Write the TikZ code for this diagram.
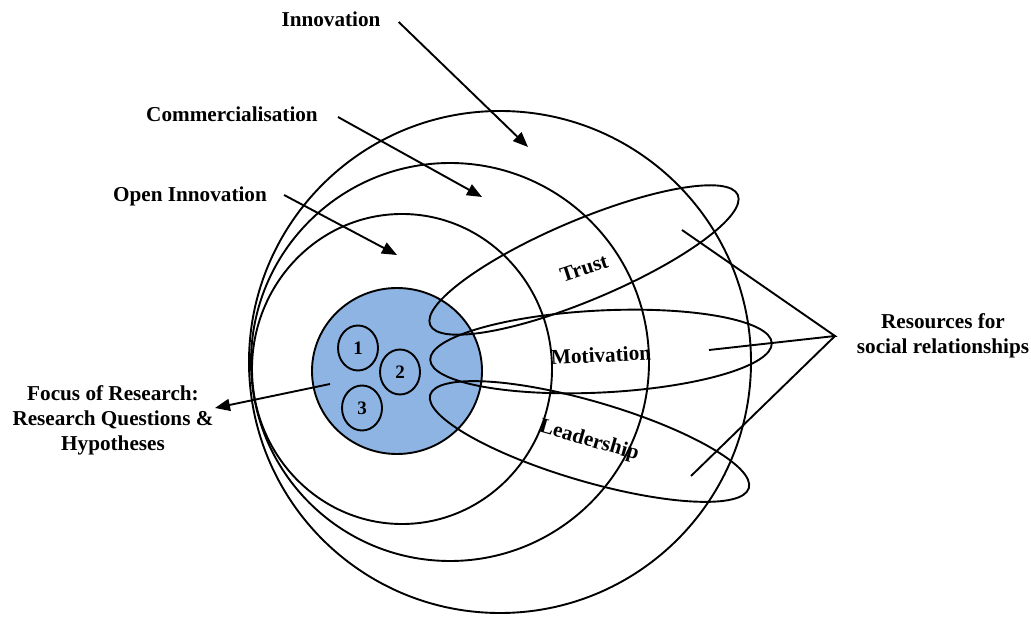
\documentclass[tikz,border=0pt]{standalone}
\usepackage{fontspec}
\setmainfont{Liberation Serif}
\usetikzlibrary{arrows.meta,shapes.geometric}
\definecolor{focusblue}{RGB}{142,180,227}
\begin{document}
\begin{tikzpicture}[x=1pt,y=-1pt,
  ring/.style={line width=1.9pt},
  loopline/.style={line width=1.9pt},
  arr/.style={line width=1.9pt,-{Triangle[length=15pt,width=12pt]}},
  lbl/.style={font=\fontsize{21.2}{25}\selectfont\bfseries, inner sep=0pt, align=center},
  num/.style={draw, line width=1.9pt, ellipse, minimum width=40pt, minimum height=45pt,
              inner sep=0pt, font=\fontsize{19}{19}\selectfont\bfseries}]
\useasboundingbox (0,0) rectangle (1031,617);

% nested circles: innovation, commercialisation, open innovation
\draw[ring] (500,362) circle [radius=251];
\draw[ring] (450,362) circle [radius=199];
\draw[ring] (402,369) ellipse [x radius=150, y radius=155];

% focus of research
\node[ellipse, draw, line width=1.9pt, fill=focusblue, minimum width=170pt,
      minimum height=166pt] (focus) at (397,371) {};
\node[num] (n1) at (358,348) {1};
\node[num] (n2) at (400,372) {2};
\node[num] (n3) at (362,408) {3};

% resource loops
\draw[loopline, rotate around={22.9:(584,260)}] (584,260) ellipse [x radius=167, y radius=40];
\draw[loopline, rotate around={2.85:(601,351.5)}] (601,351.5) ellipse [x radius=171, y radius=41];
\draw[loopline, rotate around={-16.3:(589.5,441.5)}] (589.5,441.5) ellipse [x radius=166, y radius=40];

\node[lbl, rotate=18] (trust) at (584,268) {Trust};
\node[lbl, rotate=3] (motiv) at (601,355) {Motivation};
\node[lbl, rotate=-16] (lead) at (589,441) {Leadership};

% outer labels
\node[lbl] (innov) at (331,19) {Innovation};
\node[lbl] (comm) at (232,114) {Commercialisation};
\node[lbl] (open) at (190,196) {Open Innovation};
\node[lbl] (focuslbl) at (113,420) {Focus of Research:\\Research Questions \&\\Hypotheses};
\node[lbl] (res) at (943,336) {Resources for\\social relationships};

% arrows into the rings
\coordinate (tipInnov) at (528,147);
\coordinate (tipComm) at (482,197);
\coordinate (tipOpen) at (397,255);
\draw[arr] (innov.east) ++(18,3) -- (tipInnov);
\draw[arr] (comm.east) ++(20,3) -- (tipComm);
\draw[arr] (open.east) ++(17,-1) -- (tipOpen);

% focus arrow
\coordinate (fstart) at (330,384);
\coordinate (ftip) at (215,408);
\draw[arr] (fstart) -- (ftip);

% resources connectors
\coordinate (apex) at (835,336);
\coordinate (rTrust) at (682,230);
\coordinate (rMot) at (709,350);
\coordinate (rLead) at (691,476);
\draw[ring] (rTrust) -- (apex) -- (rMot);
\draw[ring] (apex) -- (rLead);
\end{tikzpicture}
\end{document}
